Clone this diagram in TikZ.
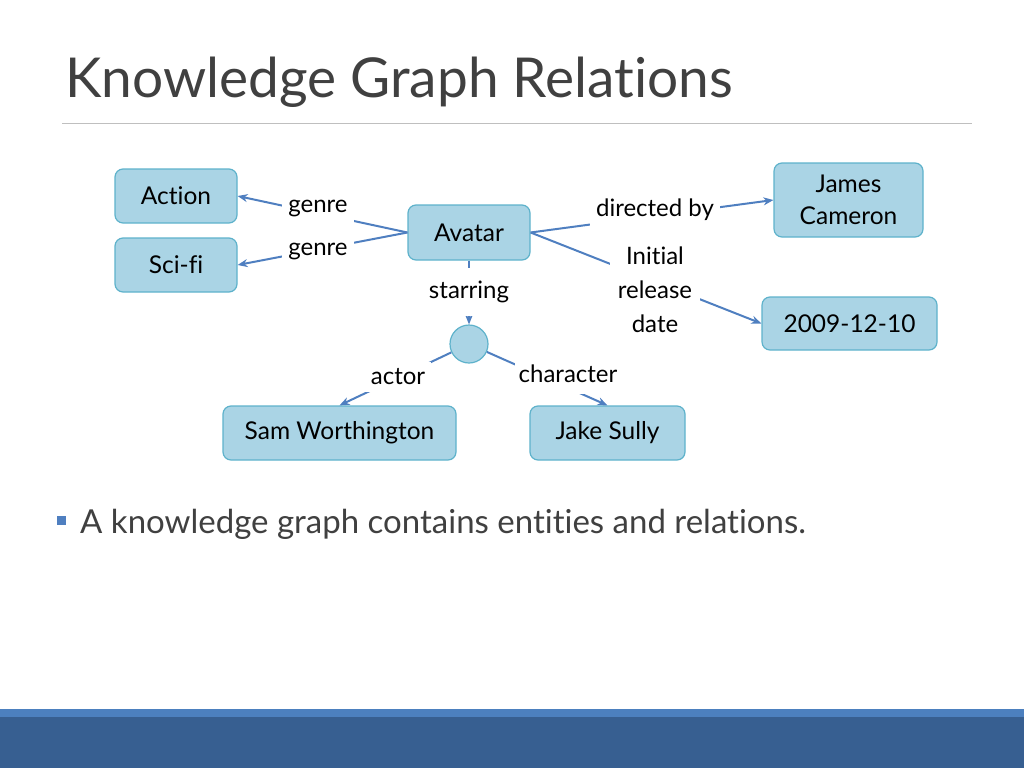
\documentclass[tikz,border=0pt]{standalone}
\usepackage{fontspec}
\setmainfont{Lato}[Ligatures={NoCommon,NoRequired,NoContextual}]
\usetikzlibrary{arrows.meta}
\definecolor{boxfill}{HTML}{AAD4E5}
\definecolor{boxline}{HTML}{5EB2CB}
\definecolor{arrowblue}{HTML}{4F7FC0}
\definecolor{textgray}{HTML}{404040}
\definecolor{bandlight}{HTML}{4C80BF}
\definecolor{banddark}{HTML}{375F91}
\tikzset{
  box/.style={draw=boxline, fill=boxfill, line width=1.2pt, rounded corners=8pt,
    font=\fontsize{24.5}{32}\selectfont, text=black, align=center, inner sep=0pt},
  lbl/.style={fill=white, font=\fontsize{24}{34}\selectfont, text=black, align=center,
    inner xsep=6pt, inner ysep=7pt},
  conn/.style={draw=arrowblue, line width=2pt, -{Stealth[length=10pt,width=8pt]}},
}
\begin{document}
\begin{tikzpicture}[x=1pt,y=-1pt]
\useasboundingbox (0,0) rectangle (1024,768);
% title
\node[anchor=base west, inner sep=0pt, text=textgray, font=\fontsize{55}{66}\selectfont] (title) at (65,97) {Knowledge Graph Relations};
\draw[draw=black!25, line width=1pt] (62,123) -- (972,123);
% boxes
\node[box, minimum width=122pt, minimum height=54pt] (action) at (176,196) {Action};
\node[box, minimum width=122pt, minimum height=54pt] (scifi) at (176,265) {Sci-fi};
\node[box, minimum width=122pt, minimum height=55pt] (avatar) at (469,232.5) {Avatar};
\node[box, minimum width=149pt, minimum height=74pt] (james) at (848.5,200) {James\\Cameron};
\node[box, minimum width=175pt, minimum height=53pt] (date) at (849.5,323.5) {2009-12-10};
\node[draw=boxline, fill=boxfill, line width=1.2pt, circle, minimum size=38pt, inner sep=0pt] (circ) at (469,344) {};
\node[box, minimum width=233pt, minimum height=54pt] (sam) at (339.5,433) {Sam Worthington};
\node[box, minimum width=155pt, minimum height=54pt] (jake) at (607.5,433) {Jake Sully};
% connectors
\draw[conn] (avatar.west) -- (action.east);
\draw[conn] (avatar.west) -- (scifi.east);
\draw[conn] (avatar.east) -- (james.west);
\draw[conn] (avatar.east) -- (date.west);
\draw[conn] (avatar.south) -- (circ.north);
\draw[conn] (circ) -- (sam.north);
\draw[conn] (circ) -- (jake.north);
% labels
\node[lbl] (lg1) at (318,209) {genre};
\node[lbl] (lg2) at (318,252) {genre};
\node[lbl] (ldir) at (655,210) {directed by};
\node[lbl, inner xsep=8pt] (lrel) at (655,290) {Initial\\release\\date};
\node[lbl, inner ysep=13pt] (lstar) at (469,292) {starring};
\node[lbl] (lact) at (398,377) {actor};
\node[lbl, minimum height=40pt, inner xsep=4pt] (lchar) at (568,374) {character};
% bullet
\fill[arrowblue] (57,516) rectangle (66,525);
\node[anchor=base west, inner sep=0pt, text=textgray, font=\fontsize{33}{40}\selectfont] (bullet) at (80,533) {A knowledge graph contains entities and relations.};
% bottom band
\fill[bandlight] (0,709) rectangle (1024,717);
\fill[banddark] (0,717) rectangle (1024,768);
\end{tikzpicture}
\end{document}
